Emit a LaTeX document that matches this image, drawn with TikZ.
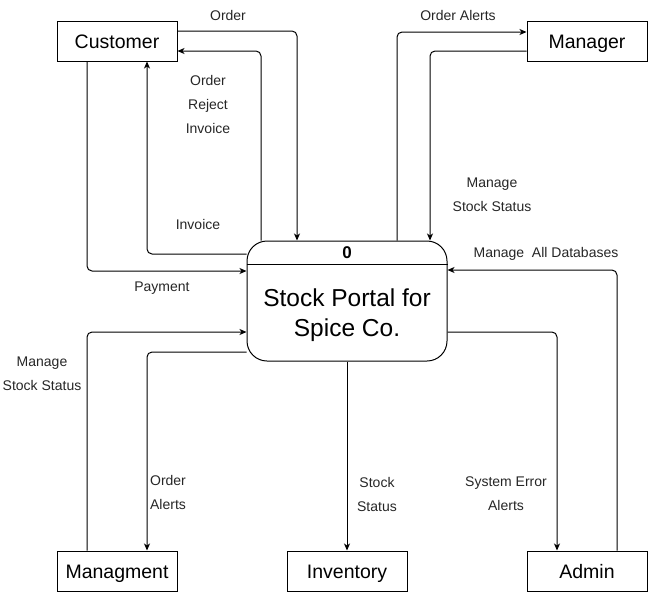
\documentclass[tikz,border=0pt]{standalone}
\usepackage{fontspec}
\setmainfont{Liberation Sans}
\usetikzlibrary{arrows.meta}
\begin{document}
\begin{tikzpicture}[x=1pt,y=-1pt,
  box/.style={draw,line width=1pt,minimum width=120pt,minimum height=40pt,inner sep=0pt,text height=14pt,text depth=0pt,font=\fontsize{19.5}{22}\selectfont},
  flow/.style={draw,line width=1pt,rounded corners=5pt,-{Stealth[length=7pt,width=6pt,inset=2pt]}},
  lbl/.style={font=\fontsize{14}{24}\selectfont,align=center,inner sep=0pt,text=black!85}]
\useasboundingbox (0,0) rectangle (648,592);
\node[box] (cust) at (117,41) {Customer};
\node[box] (mgr) at (587,41) {Manager};
\node[box] (mgmt) at (117,571) {Managment};
\node[box] (inv) at (347,571) {Inventory};
\node[box] (adm) at (587,571) {Admin};
\node[draw,line width=1pt,rounded corners=20pt,minimum width=200pt,minimum height=120pt,inner sep=0pt] (sys) at (347,301) {};
\draw[line width=1pt] (sys.west |- 0,264) coordinate (dl) -- (sys.east |- 0,264) coordinate (dr);
\node[font=\bfseries\fontsize{17}{20}\selectfont,inner sep=0pt] (num) at (347,253) {0};
\node[font=\fontsize{24.5}{30}\selectfont,align=center,inner sep=0pt] (title) at (347,315) {Stock Portal for\\Spice Co.};
% connectors
\draw[flow] ([yshift=10pt]cust.east) -| ([xshift=-50pt]sys.north);
\draw[flow] ([xshift=-86pt]sys.north) |- ([yshift=-10pt]cust.east);
\draw[flow] ([yshift=47pt]sys.west) -| ([xshift=30pt]cust.south);
\draw[flow] ([xshift=-30pt]cust.south) |- ([yshift=30pt]sys.west);
\draw[flow] ([xshift=50pt]sys.north) |- ([yshift=9pt]mgr.west);
\draw[flow] ([yshift=-10pt]mgr.west) -| ([xshift=83pt]sys.north);
\draw[flow] ([xshift=30pt]adm.north) |- ([yshift=31pt]sys.east);
\draw[flow] ([yshift=-31pt]sys.east) -| ([xshift=-30pt]adm.north);
\draw[flow] ([xshift=-30pt]mgmt.north) |- ([yshift=-31pt]sys.west);
\draw[flow] ([yshift=-51pt]sys.west) -| ([xshift=30pt]mgmt.north);
\draw[flow] (sys.south) -- (inv.north);
% labels
\node[lbl] (l1) at (228,15) {Order};
\node[lbl] (l2) at (208,104) {Order\\Reject\\Invoice};
\node[lbl] (l3) at (198,224) {Invoice};
\node[lbl] (l4) at (162,288) {Payment};
\node[lbl] (l5) at (458,15) {Order Alerts};
\node[lbl] (l6) at (492,195) {Manage\\Stock Status};
\node[lbl] (l7) at (546,254) {Manage\ \ All Databases};
\node[lbl] (l8) at (42,374) {Manage\\Stock Status};
\node[lbl] (l9) at (168,492) {Order\\Alerts};
\node[lbl] (l10) at (377,494) {Stock\\Status};
\node[lbl] (l11) at (506,494) {System Error\\Alerts};
\end{tikzpicture}
\end{document}
